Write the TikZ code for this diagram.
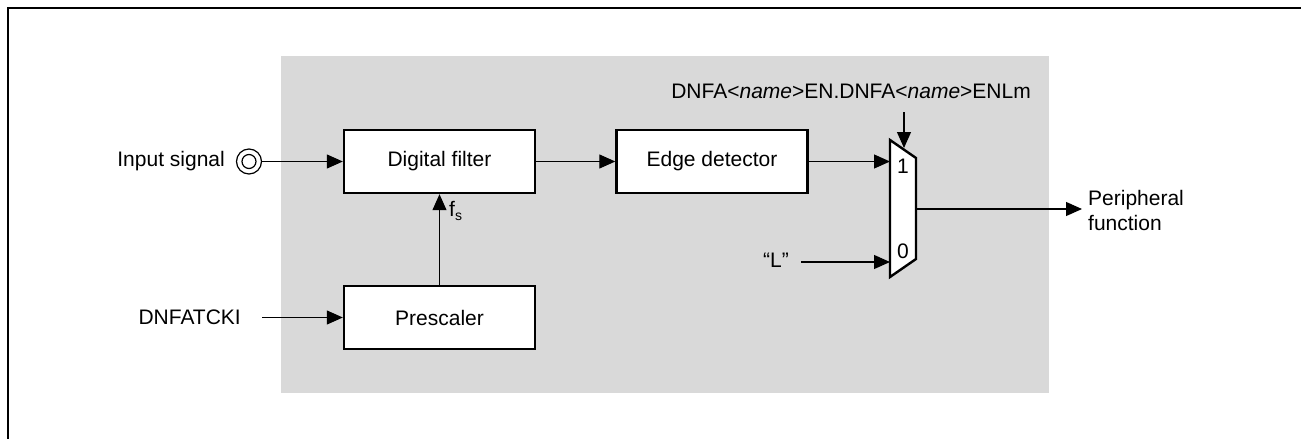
\documentclass[tikz,border=0pt]{standalone}
\usepackage{fontspec}
\setmainfont{Liberation Sans}
\usetikzlibrary{arrows.meta}
\definecolor{bggray}{HTML}{D9D9D9}
\begin{document}
\begin{tikzpicture}[x=1pt,y=-1pt,
  every node/.style={font=\fontsize{21}{25}\selectfont, inner sep=0pt},
  blk/.style={draw, fill=white, line width=2.4pt, minimum width=191pt, minimum height=63pt},
  arr/.style={line width=1.2pt, -{Triangle[length=16pt,width=14pt]}},
  wire/.style={line width=1.2pt}]
\useasboundingbox (0,0) rectangle (1301,439);
% outer frame
\draw[line width=2.5pt] (8,440) -- (8,8) -- (1302,8);
% gray area
\fill[bggray] (281,56) rectangle (1049,393);
% blocks
\node[blk] (df) at (439.5,161.5) {Digital filter};
\node[blk] (pre) at (439.5,317.5) {Prescaler};
\node[blk] (ed) at (712,161.5) {Edge detector};
% input signal terminal
\node[draw, circle, line width=1.2pt, minimum size=25pt] (insig) at (249,161.5) {};
\node[draw, circle, line width=1.2pt, minimum size=14pt] (insigin) at (249,161.5) {};
\node[anchor=east] (intxt) at (225,161.5) {Input signal};
\draw[arr] (insig.east) -- (df.west);
% clock
\node[anchor=east] (ck) at (241,317.5) {DNFATCKI};
\draw[arr] ([xshift=21pt]ck.east) -- (pre.west);
\draw[arr] (pre.north) -- (df.south);
\node[anchor=west] (fs) at (449,211) {f\raisebox{-0.35ex}{\fontsize{14}{14}\selectfont s}};
\draw[arr] (df.east) -- (ed.west);
% multiplexer
\draw[line width=2.4pt, fill=white] (890,140) -- (916,158) -- (916,259) -- (890,277) -- cycle;
\coordinate (m1) at (890,161.5);
\coordinate (m0) at (890,262);
\coordinate (mout) at (916,209);
\coordinate (selend) at (904,148);
\node (one) at (903,166) {1};
\node (zero) at (903,251) {0};
\draw[arr] (ed.east) -- (m1);
\node (lsig) at (776,260) {“L”};
\draw[arr] ([xshift=12pt]lsig.east |- m0) -- (m0);
\node[anchor=east] (sel) at (1031,91) {DNFA<\textit{name}>EN.DNFA<\textit{name}>ENLm};
\coordinate (seltop) at (904,112);
\draw[arr] (seltop) -- (selend);
\node[anchor=west, align=left] (pf) at (1088,210) {Peripheral\\function};
\draw[arr] (mout) -- ([xshift=-6pt]pf.west |- mout);
\end{tikzpicture}
\end{document}
